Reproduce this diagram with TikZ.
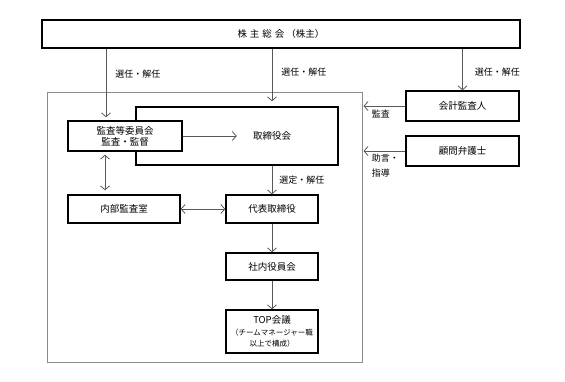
\documentclass[tikz,border=0pt]{standalone}
\usepackage{fontspec}
\setmainfont{Noto Sans CJK JP}
\usetikzlibrary{arrows.meta}

\begin{document}
\begin{tikzpicture}[
            x=1pt, y=-1pt,
            font=\fontsize{9.5}{11}\selectfont,
            box/.style={
                draw,
                line width=1.3pt,
                fill=white,
                inner sep=0pt,
                align=center
            },
            frame/.style={draw=black!45,line width=1pt},
            lbl/.style={inner sep=0pt,align=left,font=\fontsize{9}{15}\selectfont},
            arr/.style={-{Straight Barb[length=4pt,width=9pt]},draw=black!65,line width=0.8pt},
            darr/.style={arr,{Straight Barb[length=4pt,width=9pt]}-{Straight Barb[length=4pt,width=9pt]}}
        ]
            \useasboundingbox (0,0) rectangle (565,381);

            \node[box,minimum width=478pt,minimum height=28pt] (kabu) at (281,34)
            {株\hspace{3pt}主\hspace{3pt}総\hspace{3pt}会\hspace{2pt}（株主）};

            \node[frame,minimum width=315pt,minimum height=270pt] (outer) at (204.5,227) {};

            \node[box,minimum width=202pt,minimum height=58pt] (board) at (237,136) {};
            \node[box,minimum width=114pt,minimum height=30pt] (aud) at (125,136)
            {監査等委員会\\監査・監督};
            \node[box,minimum width=112pt,minimum height=28pt] (naibu) at (124,209)
            {内部監査室};
            \node[box,minimum width=92pt,minimum height=28pt] (dai) at (272,209)
            {代表取締役};
            \node[inner sep=0pt] (boardtxt) at (board.center -| dai.north) {取締役会};
            \node[box,minimum width=92pt,minimum height=27pt] (shanai) at (272,266.5)
            {社内役員会};
            \node[box,minimum width=92pt,minimum height=43pt] (topm) at (272,331.5)
            {TOP会議\\[1pt]
            {\fontsize{7.5}{9}\selectfont （チームマネージャー職}\\
            {\fontsize{7.5}{9}\selectfont 以上で構成）}};

            \node[box,minimum width=113pt,minimum height=30pt] (kaikei) at (462.5,106)
            {会計監査人};
            \node[box,minimum width=113pt,minimum height=30pt] (komon) at (462.5,151)
            {顧問弁護士};

            % from the shareholders
            \draw[arr,shorten >=3pt] ([xshift=-19pt]aud.north |- kabu.south) -- ([xshift=-19pt]aud.north)
            node[lbl,anchor=west,pos=0.35,xshift=9pt] {選任・解任};
            \draw[arr] (kabu.south -| dai.north) -- ([yshift=5pt]board.north -| dai.north)
            node[lbl,anchor=west,pos=0.44,xshift=9pt] {選任・解任};
            \draw[arr] (kabu.south -| kaikei.north) -- (kaikei.north)
            node[lbl,anchor=west,pos=0.56,xshift=12pt] {選任・解任};

            % inside the company
            \draw[arr,shorten >=16pt] (aud.east) -- (boardtxt.west);
            \draw[darr,shorten <=3pt,shorten >=4pt] ([xshift=-20pt]aud.south) -- ([xshift=-20pt]aud.south |- naibu.north);
            \draw[darr] (naibu.east) -- (dai.west);
            \draw[arr] (board.south -| dai.north) -- (dai.north)
            node[lbl,anchor=west,midway,xshift=7pt] {選定・解任};
            \draw[arr] (dai.south) -- (shanai.north);
            \draw[arr] (shanai.south) -- (topm.north);

            % outside advisers
            \draw[arr,shorten >=1pt] (kaikei.west) -- (kaikei.west -| outer.east)
            node[lbl,anchor=north west,xshift=9pt,yshift=-4pt] {監査};
            \draw[arr,shorten >=1pt] (komon.west) -- (komon.west -| outer.east)
            node[lbl,anchor=north west,xshift=9pt,yshift=-3pt] {助言・\\指導};
        \end{tikzpicture}
\end{document}
